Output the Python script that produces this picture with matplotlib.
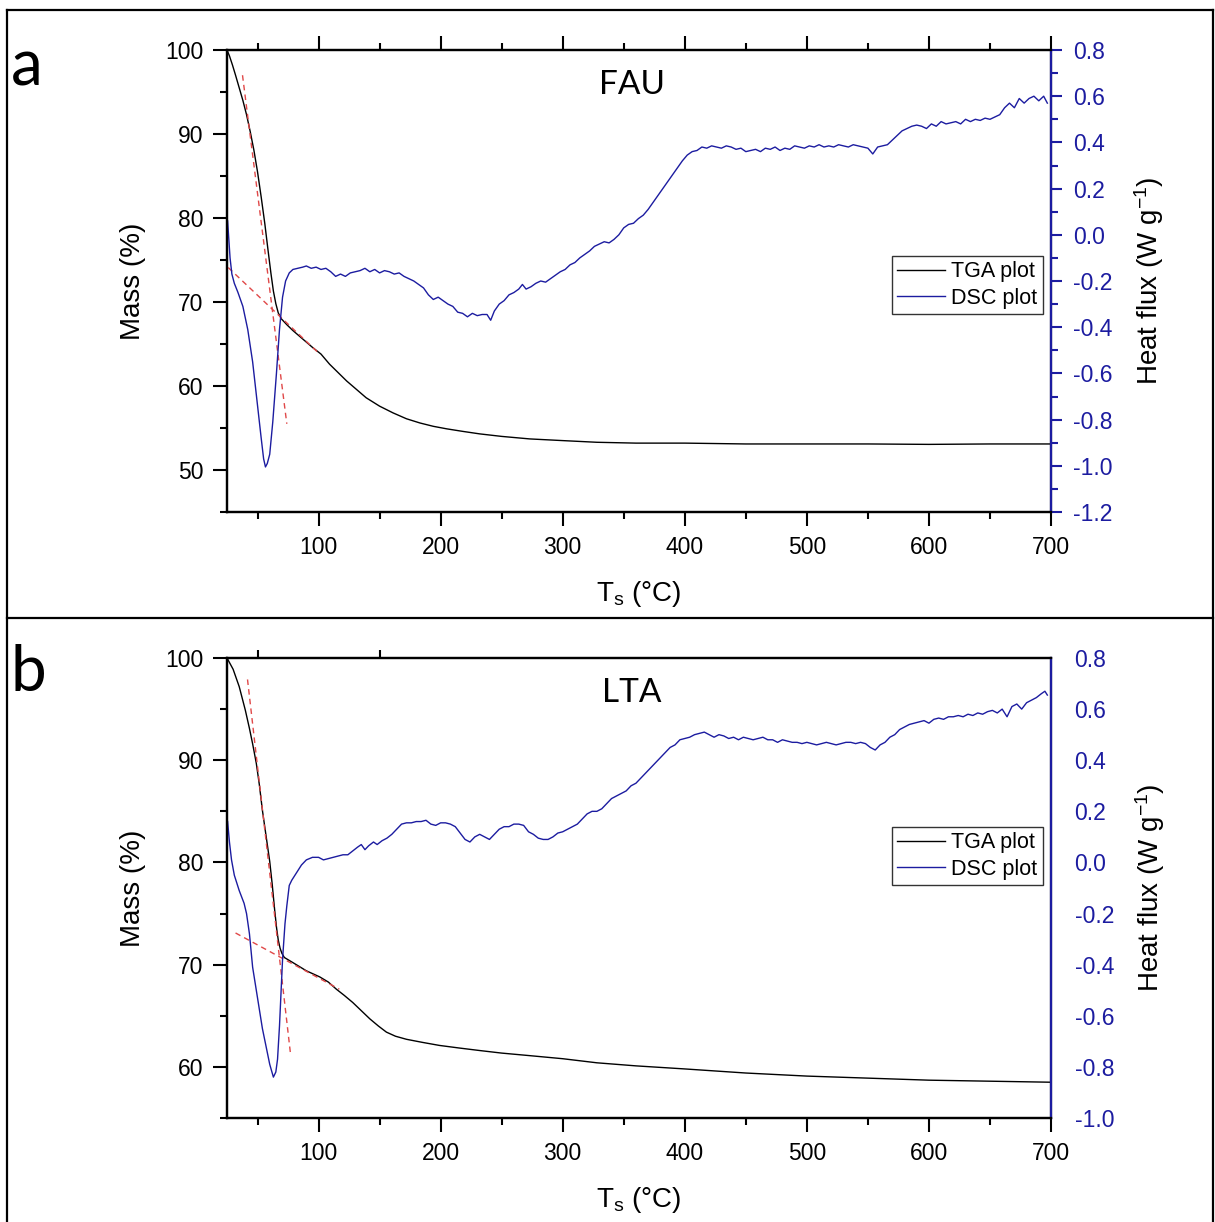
import numpy as np
import matplotlib
matplotlib.use("Agg")
import matplotlib.pyplot as plt
from matplotlib.ticker import MultipleLocator
from matplotlib.lines import Line2D

plt.rcParams['font.family'] = ['Liberation Sans', 'DejaVu Sans']
plt.rcParams['axes.unicode_minus'] = False
plt.rcParams['mathtext.default'] = 'regular'

# ---- panel a: FAU ----
fau_tga_T = [25, 27, 29.5, 32, 35, 38, 41, 44, 47, 50, 53, 56, 58.5, 61, 63, 65, 67, 69.5,
             74, 79, 87, 95, 102, 109, 116, 123, 131, 139, 150, 161, 172, 183, 194, 205,
             218, 232, 250, 273, 300, 328, 360, 400, 450, 500, 550, 600, 650, 700]
fau_tga_m = [100, 99.3, 98.2, 97.0, 95.5, 94.0, 92.3, 90.3, 88.1, 85.5, 82.5, 79.3, 76.3,
             73.4, 71.3, 69.8, 68.7, 68.0, 67.3, 66.6, 65.6, 64.6, 63.8, 62.6, 61.6, 60.6,
             59.6, 58.6, 57.6, 56.8, 56.1, 55.6, 55.2, 54.9, 54.6, 54.3, 54.0, 53.7, 53.5,
             53.3, 53.2, 53.2, 53.1, 53.1, 53.1, 53.05, 53.1, 53.1]

fau_dsc_T = [25.5, 26.5, 27.5, 29, 31, 34, 38, 42, 46, 50, 53, 55, 56.5, 58, 60, 62.5, 65.5,
             68, 70.5, 73, 76, 79, 83, 87, 90, 94, 98, 102, 106, 110, 114, 118, 122, 126,
             130, 134, 138, 142, 146, 150, 154, 158, 162, 166, 170, 174, 178, 182, 186, 190,
             194, 198, 202, 206, 210, 214, 218, 222, 226, 230, 234, 238, 241, 244, 248, 252,
             256, 260, 264, 267, 270, 274, 278, 282, 286, 290, 294, 298, 302, 306, 310, 314,
             318, 322, 326, 330, 334, 338, 342, 346, 350, 354, 358, 362, 366, 370, 374, 378,
             382, 386, 390, 394, 398, 402, 406, 410, 414, 418, 422, 426, 430, 434, 438, 442,
             446, 450, 454, 458, 462, 466, 470, 474, 478, 482, 486, 490, 494, 498, 502, 506,
             510, 514, 518, 522, 526, 530, 534, 538, 542, 546, 550, 554, 558, 562, 566, 570,
             574, 578, 582, 586, 590, 594, 598, 602, 606, 610, 614, 618, 622, 626, 630, 634,
             638, 642, 646, 650, 654, 658, 662, 666, 670, 674, 678, 682, 686, 690, 694, 697]
fau_dsc_q = [0.06, -0.02, -0.10, -0.17, -0.21, -0.25, -0.31, -0.41, -0.55, -0.74, -0.88, -0.97,
             -1.005, -0.99, -0.95, -0.81, -0.60, -0.41, -0.27, -0.20, -0.165, -0.15, -0.145,
             -0.14, -0.135, -0.145, -0.14, -0.15, -0.145, -0.16, -0.18, -0.17, -0.18, -0.165,
             -0.16, -0.155, -0.145, -0.16, -0.15, -0.165, -0.155, -0.16, -0.17, -0.165, -0.18,
             -0.19, -0.20, -0.215, -0.23, -0.26, -0.28, -0.27, -0.285, -0.30, -0.31, -0.335,
             -0.34, -0.355, -0.34, -0.35, -0.345, -0.345, -0.37, -0.33, -0.30, -0.285, -0.26,
             -0.25, -0.235, -0.215, -0.235, -0.225, -0.21, -0.20, -0.205, -0.19, -0.175, -0.16,
             -0.15, -0.13, -0.12, -0.10, -0.085, -0.07, -0.05, -0.04, -0.03, -0.035, -0.02, 0.0,
             0.03, 0.045, 0.05, 0.07, 0.085, 0.11, 0.14, 0.17, 0.2, 0.23, 0.26, 0.29, 0.32,
             0.345, 0.36, 0.365, 0.38, 0.375, 0.385, 0.38, 0.375, 0.385, 0.38, 0.37, 0.375,
             0.36, 0.365, 0.37, 0.36, 0.375, 0.37, 0.38, 0.365, 0.375, 0.37, 0.385, 0.38, 0.375,
             0.385, 0.38, 0.39, 0.38, 0.385, 0.38, 0.39, 0.385, 0.38, 0.39, 0.385, 0.38, 0.375,
             0.35, 0.38, 0.385, 0.39, 0.41, 0.43, 0.45, 0.46, 0.47, 0.475, 0.47, 0.46, 0.48,
             0.47, 0.49, 0.48, 0.485, 0.49, 0.48, 0.5, 0.49, 0.5, 0.495, 0.505, 0.5, 0.51, 0.52,
             0.55, 0.57, 0.55, 0.59, 0.57, 0.59, 0.6, 0.58, 0.6, 0.57]

fau_tan1_T = [37.7, 74]
fau_tan1_m = [97.0, 55.5]
fau_tan2_T = [26, 101]
fau_tan2_m = [74.1, 63.8]

# ---- panel b: LTA ----
lta_tga_T = [25, 30, 35, 40, 43.4, 46, 49, 51.5, 54, 57, 60, 62, 64, 65.6, 67, 68.5, 70, 72,
             79, 90, 101, 108, 114.6, 121, 128, 135, 142, 149, 155.6, 163, 172, 185, 199,
             215, 232, 250, 273, 300, 328, 360, 400, 450, 500, 550, 600, 650, 700]
lta_tga_m = [100, 98.9, 97.2, 94.9, 93.1, 91.6, 89.7, 87.6, 85.1, 82.6, 80.1, 77.9, 75.4,
             73.6, 72.4, 71.6, 71.1, 70.7, 70.2, 69.4, 68.8, 68.3, 67.6, 67.0, 66.3, 65.5,
             64.7, 64.0, 63.4, 63.0, 62.7, 62.4, 62.1, 61.85, 61.6, 61.35, 61.1, 60.8, 60.4,
             60.1, 59.8, 59.4, 59.1, 58.9, 58.7, 58.6, 58.5]

lta_dsc_T = [25.5, 27, 28.7, 31, 35, 39, 41, 43.4, 46, 49, 51.6, 54, 57, 60, 63, 65, 66.4, 68,
             70.5, 72.5, 74, 76, 78, 82, 86, 90, 95, 100, 104, 108, 112, 116, 120, 124, 128,
             132, 135, 138, 141, 145, 148, 152, 156, 160, 164, 168, 172, 176, 180, 184, 188,
             192, 196, 200, 204, 208, 212, 216, 220, 224, 228, 232, 236, 240, 244, 248, 252,
             256, 260, 264, 268, 272, 276, 280, 284, 288, 292, 296, 300, 304, 308, 312, 316,
             320, 324, 328, 332, 336, 340, 344, 348, 352, 356, 360, 364, 368, 372, 376, 380,
             384, 388, 392, 396, 400, 404, 408, 412, 416, 420, 424, 428, 432, 436, 440, 444,
             448, 452, 456, 460, 464, 468, 472, 476, 480, 484, 488, 492, 496, 500, 504, 508,
             512, 516, 520, 524, 528, 532, 536, 540, 544, 548, 552, 556, 560, 564, 568, 572,
             576, 580, 584, 588, 592, 596, 600, 604, 608, 612, 616, 620, 624, 628, 632, 636,
             640, 644, 648, 652, 656, 660, 664, 668, 672, 676, 680, 684, 688, 692, 695, 697]
lta_dsc_q = [0.16, 0.08, 0.01, -0.05, -0.11, -0.16, -0.2, -0.28, -0.41, -0.50, -0.58, -0.65,
             -0.72, -0.79, -0.84, -0.82, -0.77, -0.64, -0.38, -0.24, -0.17, -0.09, -0.07,
             -0.04, -0.01, 0.01, 0.02, 0.02, 0.01, 0.015, 0.02, 0.025, 0.03, 0.03, 0.045, 0.06,
             0.07, 0.05, 0.065, 0.08, 0.07, 0.085, 0.095, 0.11, 0.13, 0.15, 0.155, 0.155, 0.16,
             0.16, 0.165, 0.15, 0.145, 0.155, 0.155, 0.15, 0.14, 0.115, 0.09, 0.08, 0.10, 0.11,
             0.10, 0.09, 0.11, 0.13, 0.14, 0.14, 0.15, 0.15, 0.145, 0.12, 0.11, 0.095, 0.09,
             0.09, 0.10, 0.115, 0.12, 0.13, 0.14, 0.15, 0.17, 0.19, 0.2, 0.2, 0.21, 0.23, 0.25,
             0.26, 0.27, 0.28, 0.3, 0.31, 0.33, 0.35, 0.37, 0.39, 0.41, 0.43, 0.45, 0.46, 0.48,
             0.485, 0.49, 0.5, 0.505, 0.51, 0.5, 0.49, 0.5, 0.495, 0.485, 0.49, 0.48, 0.49,
             0.485, 0.48, 0.485, 0.49, 0.48, 0.48, 0.47, 0.48, 0.475, 0.47, 0.47, 0.465, 0.47,
             0.465, 0.46, 0.465, 0.47, 0.465, 0.46, 0.465, 0.47, 0.47, 0.465, 0.47, 0.465, 0.45,
             0.44, 0.46, 0.47, 0.49, 0.5, 0.52, 0.53, 0.54, 0.545, 0.55, 0.555, 0.545, 0.56,
             0.565, 0.56, 0.57, 0.57, 0.575, 0.57, 0.58, 0.575, 0.585, 0.58, 0.59, 0.595, 0.585,
             0.6, 0.57, 0.61, 0.62, 0.6, 0.625, 0.635, 0.645, 0.66, 0.67, 0.655]

lta_tan1_T = [41.8, 77]
lta_tan1_m = [97.9, 61.3]
lta_tan2_T = [32, 117]
lta_tan2_m = [73.1, 67.6]

blue = '#1c1ca0'
red = '#e04848'

fig = plt.figure(figsize=(12.15, 12.22), dpi=100)


def panel(rect, name, letter, letter_y, T, m, dT, q, t1T, t1m, t2T, t2m,
          ylim, y2lim, leg_y, full_top, right_ticks):
    ax = fig.add_axes(rect)
    ax2 = ax.twinx()
    ax.plot(T, m, color='black', lw=1.0, label='TGA plot', zorder=3)
    ax.plot(t1T, t1m, color=red, lw=1.0, ls=(0, (4, 3)), zorder=4)
    ax.plot(t2T, t2m, color=red, lw=1.0, ls=(0, (4, 3)), zorder=4)
    ax2.plot(dT, q, color=blue, lw=1.0, label='DSC plot')

    ax.set_xlim(25, 700)
    ax.set_ylim(*ylim)
    ax2.set_ylim(*y2lim)
    ax.xaxis.set_major_locator(MultipleLocator(100))
    ax.xaxis.set_minor_locator(MultipleLocator(50))
    ax.yaxis.set_major_locator(MultipleLocator(10))
    ax.yaxis.set_minor_locator(MultipleLocator(5))
    ax2.yaxis.set_major_locator(MultipleLocator(0.2))
    ax2.yaxis.set_minor_locator(MultipleLocator(0.1))
    ax2.yaxis.set_major_formatter(plt.FormatStrFormatter('%.1f'))

    ax.tick_params(which='both', direction='out', width=1.5, labelsize=16.5, pad=7,
                   top=full_top)
    ax.tick_params(which='major', length=10)
    ax.tick_params(which='minor', length=5)
    if right_ticks:
        ax2.tick_params(which='both', direction='out', width=1.5, colors=blue,
                        labelsize=16.5, pad=8)
        ax2.tick_params(which='major', length=8)
        ax2.tick_params(which='minor', length=5)
    else:
        ax2.tick_params(which='both', length=0, labelcolor=blue, labelsize=16.5, pad=17)
        sec = ax.secondary_xaxis('top')
        sec.set_xticks([50, 150])
        sec.set_xticklabels([])
        sec.tick_params(direction='out', length=6, width=1.5)
        sec.spines['top'].set_visible(False)

    for s in ax.spines.values():
        s.set_linewidth(1.6)
    for s in ax2.spines.values():
        s.set_linewidth(1.6)
    ax2.spines['right'].set_color(blue)

    ax.set_xlabel('T$_\\mathregular{s}$ (°C)', fontsize=20, labelpad=15)
    ax.set_ylabel('Mass (%)', fontsize=20, labelpad=14)
    ax2.set_ylabel('Heat flux (W g$^{\\mathregular{-1}}$)', fontsize=20, labelpad=14)

    h1, l1 = ax.get_legend_handles_labels()
    h2, l2 = ax2.get_legend_handles_labels()
    leg = ax2.legend(h1 + h2, l1 + l2, loc='upper right', bbox_to_anchor=(0.99, leg_y),
                     fontsize=15.5, frameon=True, fancybox=False, framealpha=1,
                     edgecolor='#333333', handlelength=2.2, handletextpad=0.3,
                     borderpad=0.25, labelspacing=0.25, borderaxespad=0)
    leg.get_frame().set_linewidth(1.0)

    ax.text(0.4915, 0.925, name, transform=ax.transAxes, ha='center', va='center',
            fontsize=24, family=['Lato', 'DejaVu Sans'])
    fig.text(0.009, letter_y, letter, fontsize=46, family=['Lato', 'DejaVu Sans'],
             ha='left', va='baseline')


panel([227 / 1215, 1 - 512 / 1222, 824 / 1215, 462 / 1222], 'FAU', 'a', 1 - 86 / 1222,
      fau_tga_T, fau_tga_m, fau_dsc_T, fau_dsc_q,
      fau_tan1_T, fau_tan1_m, fau_tan2_T, fau_tan2_m,
      (45, 100), (-1.2, 0.8), 0.554, True, True)
panel([227 / 1215, 1 - 1118 / 1222, 824 / 1215, 460 / 1222], 'LTA', 'b', 1 - 691 / 1222,
      lta_tga_T, lta_tga_m, lta_dsc_T, lta_dsc_q,
      lta_tan1_T, lta_tan1_m, lta_tan2_T, lta_tan2_m,
      (55, 100), (-1.0, 0.8), 0.633, False, False)

# outer frame and divider
fx = [7 / 1215, 1213 / 1215]
fig.add_artist(Line2D([fx[0], fx[1]], [1 - 10 / 1222, 1 - 10 / 1222], color='black', lw=1.6))
fig.add_artist(Line2D([fx[0], fx[0]], [0, 1 - 10 / 1222], color='black', lw=1.6))
fig.add_artist(Line2D([fx[1], fx[1]], [0, 1 - 10 / 1222], color='black', lw=1.6))
fig.add_artist(Line2D([fx[0], fx[1]], [1 - 618 / 1222, 1 - 618 / 1222], color='black', lw=1.6))

fig.savefig('out.png', dpi=100)
